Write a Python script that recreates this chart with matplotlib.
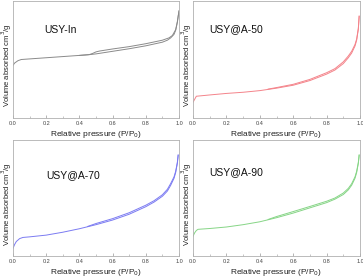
import matplotlib
matplotlib.use("Agg")
import matplotlib.pyplot as plt
from matplotlib.ticker import MultipleLocator

plt.rcParams['font.family'] = ['Liberation Sans', 'DejaVu Sans']

# USY-In (gray)
p1_ads_x = [0.0, 0.01, 0.03, 0.05, 0.1, 0.2, 0.3, 0.4, 0.45, 0.5, 0.6, 0.7, 0.8, 0.9, 0.93, 0.95, 0.97, 0.98, 0.99, 0.995, 1.0]
p1_ads_y = [0.45, 0.47, 0.49, 0.50, 0.505, 0.515, 0.525, 0.535, 0.54, 0.548, 0.57, 0.592, 0.617, 0.648, 0.665, 0.685, 0.715, 0.75, 0.82, 0.87, 0.915]
p1_des_x = [1.0, 0.99, 0.98, 0.96, 0.94, 0.9, 0.8, 0.7, 0.6, 0.52, 0.5, 0.48, 0.46, 0.4]
p1_des_y = [0.915, 0.82, 0.755, 0.705, 0.685, 0.665, 0.635, 0.61, 0.59, 0.572, 0.565, 0.552, 0.542, 0.535]

# USY@A-50 (red)
p2_ads_x = [0.0, 0.01, 0.02, 0.05, 0.1, 0.2, 0.3, 0.4, 0.5, 0.6, 0.7, 0.8, 0.85, 0.9, 0.93, 0.95, 0.97, 0.98, 0.99, 0.995]
p2_ads_y = [0.134, 0.16, 0.186, 0.19, 0.197, 0.21, 0.22, 0.234, 0.255, 0.28, 0.32, 0.375, 0.41, 0.465, 0.515, 0.555, 0.615, 0.665, 0.76, 0.87]
p2_des_x = [0.995, 0.99, 0.98, 0.97, 0.95, 0.93, 0.9, 0.85, 0.8, 0.7, 0.6, 0.5, 0.45]
p2_des_y = [0.87, 0.765, 0.675, 0.628, 0.57, 0.53, 0.48, 0.422, 0.387, 0.33, 0.288, 0.26, 0.247]

# USY@A-70 (blue)
p3_ads_x = [0.0, 0.01, 0.02, 0.04, 0.06, 0.1, 0.2, 0.3, 0.4, 0.5, 0.6, 0.7, 0.8, 0.85, 0.9, 0.93, 0.95, 0.97, 0.98, 0.99, 0.995]
p3_ads_y = [0.066, 0.10, 0.125, 0.15, 0.16, 0.165, 0.18, 0.205, 0.235, 0.27, 0.31, 0.36, 0.425, 0.465, 0.515, 0.56, 0.61, 0.67, 0.72, 0.80, 0.87]
p3_des_x = [0.995, 0.99, 0.98, 0.97, 0.95, 0.93, 0.9, 0.85, 0.8, 0.7, 0.6, 0.5, 0.45]
p3_des_y = [0.87, 0.805, 0.73, 0.682, 0.625, 0.575, 0.528, 0.477, 0.438, 0.373, 0.322, 0.28, 0.255]

# USY@A-90 (green)
p4_ads_x = [0.0, 0.01, 0.02, 0.03, 0.05, 0.1, 0.2, 0.3, 0.4, 0.5, 0.6, 0.7, 0.8, 0.85, 0.9, 0.93, 0.95, 0.97, 0.98, 0.99, 0.995]
p4_ads_y = [0.17, 0.20, 0.22, 0.23, 0.232, 0.237, 0.25, 0.27, 0.295, 0.33, 0.37, 0.415, 0.46, 0.49, 0.53, 0.57, 0.61, 0.67, 0.72, 0.80, 0.87]
p4_des_x = [0.995, 0.99, 0.98, 0.97, 0.95, 0.93, 0.9, 0.85, 0.8, 0.7, 0.6, 0.5, 0.45]
p4_des_y = [0.87, 0.805, 0.73, 0.682, 0.623, 0.583, 0.543, 0.5, 0.472, 0.427, 0.383, 0.34, 0.315]

labels = ["USY-In", "USY@A-50", "USY@A-70", "USY@A-90"]
colors = ["#8a8a8a", "#f4838a", "#7b7bf2", "#86d586"]
xticks = [0.0, 0.2, 0.4, 0.6, 0.8, 1.0]

panels = [
    (p1_ads_x, p1_ads_y, p1_des_x, p1_des_y),
    (p2_ads_x, p2_ads_y, p2_des_x, p2_des_y),
    (p3_ads_x, p3_ads_y, p3_des_x, p3_des_y),
    (p4_ads_x, p4_ads_y, p4_des_x, p4_des_y),
]

W, H = 363, 280
fig = plt.figure(figsize=(W / 100, H / 100), dpi=100)
boxes = [(13, 1, 179, 118), (193, 1, 360, 118), (13, 140, 179, 256), (193, 140, 360, 256)]
label_pos = [(0.19, 0.73), (0.1, 0.73), (0.2, 0.67), (0.1, 0.7)]

for i, (ax_x, ax_y, de_x, de_y) in enumerate(panels):
    l, t, r, b = boxes[i]
    ax = fig.add_axes([l / W, 1 - b / H, (r - l) / W, (b - t) / H])
    ax.plot(ax_x, ax_y, color=colors[i], lw=0.7)
    ax.plot(de_x, de_y, color=colors[i], lw=0.7)
    ax.set_xlim(0, 1.0)
    ax.set_ylim(0, 1.0)
    ax.set_xticks(xticks)
    ax.set_xticklabels([f"{v:.1f}" for v in xticks])
    ax.xaxis.set_minor_locator(MultipleLocator(0.1))
    ax.set_yticks([])
    ax.tick_params(axis='x', which='major', direction='in', length=2, width=0.5,
                   labelsize=4, colors='#999999', labelcolor='#444444', pad=2)
    ax.tick_params(axis='x', which='minor', direction='in', length=1.2, width=0.4, colors='#999999')
    for s in ax.spines.values():
        s.set_color('#b0b0b0')
        s.set_linewidth(0.6)
    ax.set_xlabel("Relative pressure (P/P$_0$)", fontsize=6, labelpad=2, color='#222222')
    ax.set_ylabel("Volume absorbed cm$^3$/g", fontsize=5.5, color='#222222',
                  va='center', ha='center')
    ax.yaxis.set_label_coords(-0.036, 0.45)
    ax.text(label_pos[i][0], label_pos[i][1], labels[i], transform=ax.transAxes,
            fontsize=7.5, color='#111111')

fig.savefig("out.png", dpi=100)
